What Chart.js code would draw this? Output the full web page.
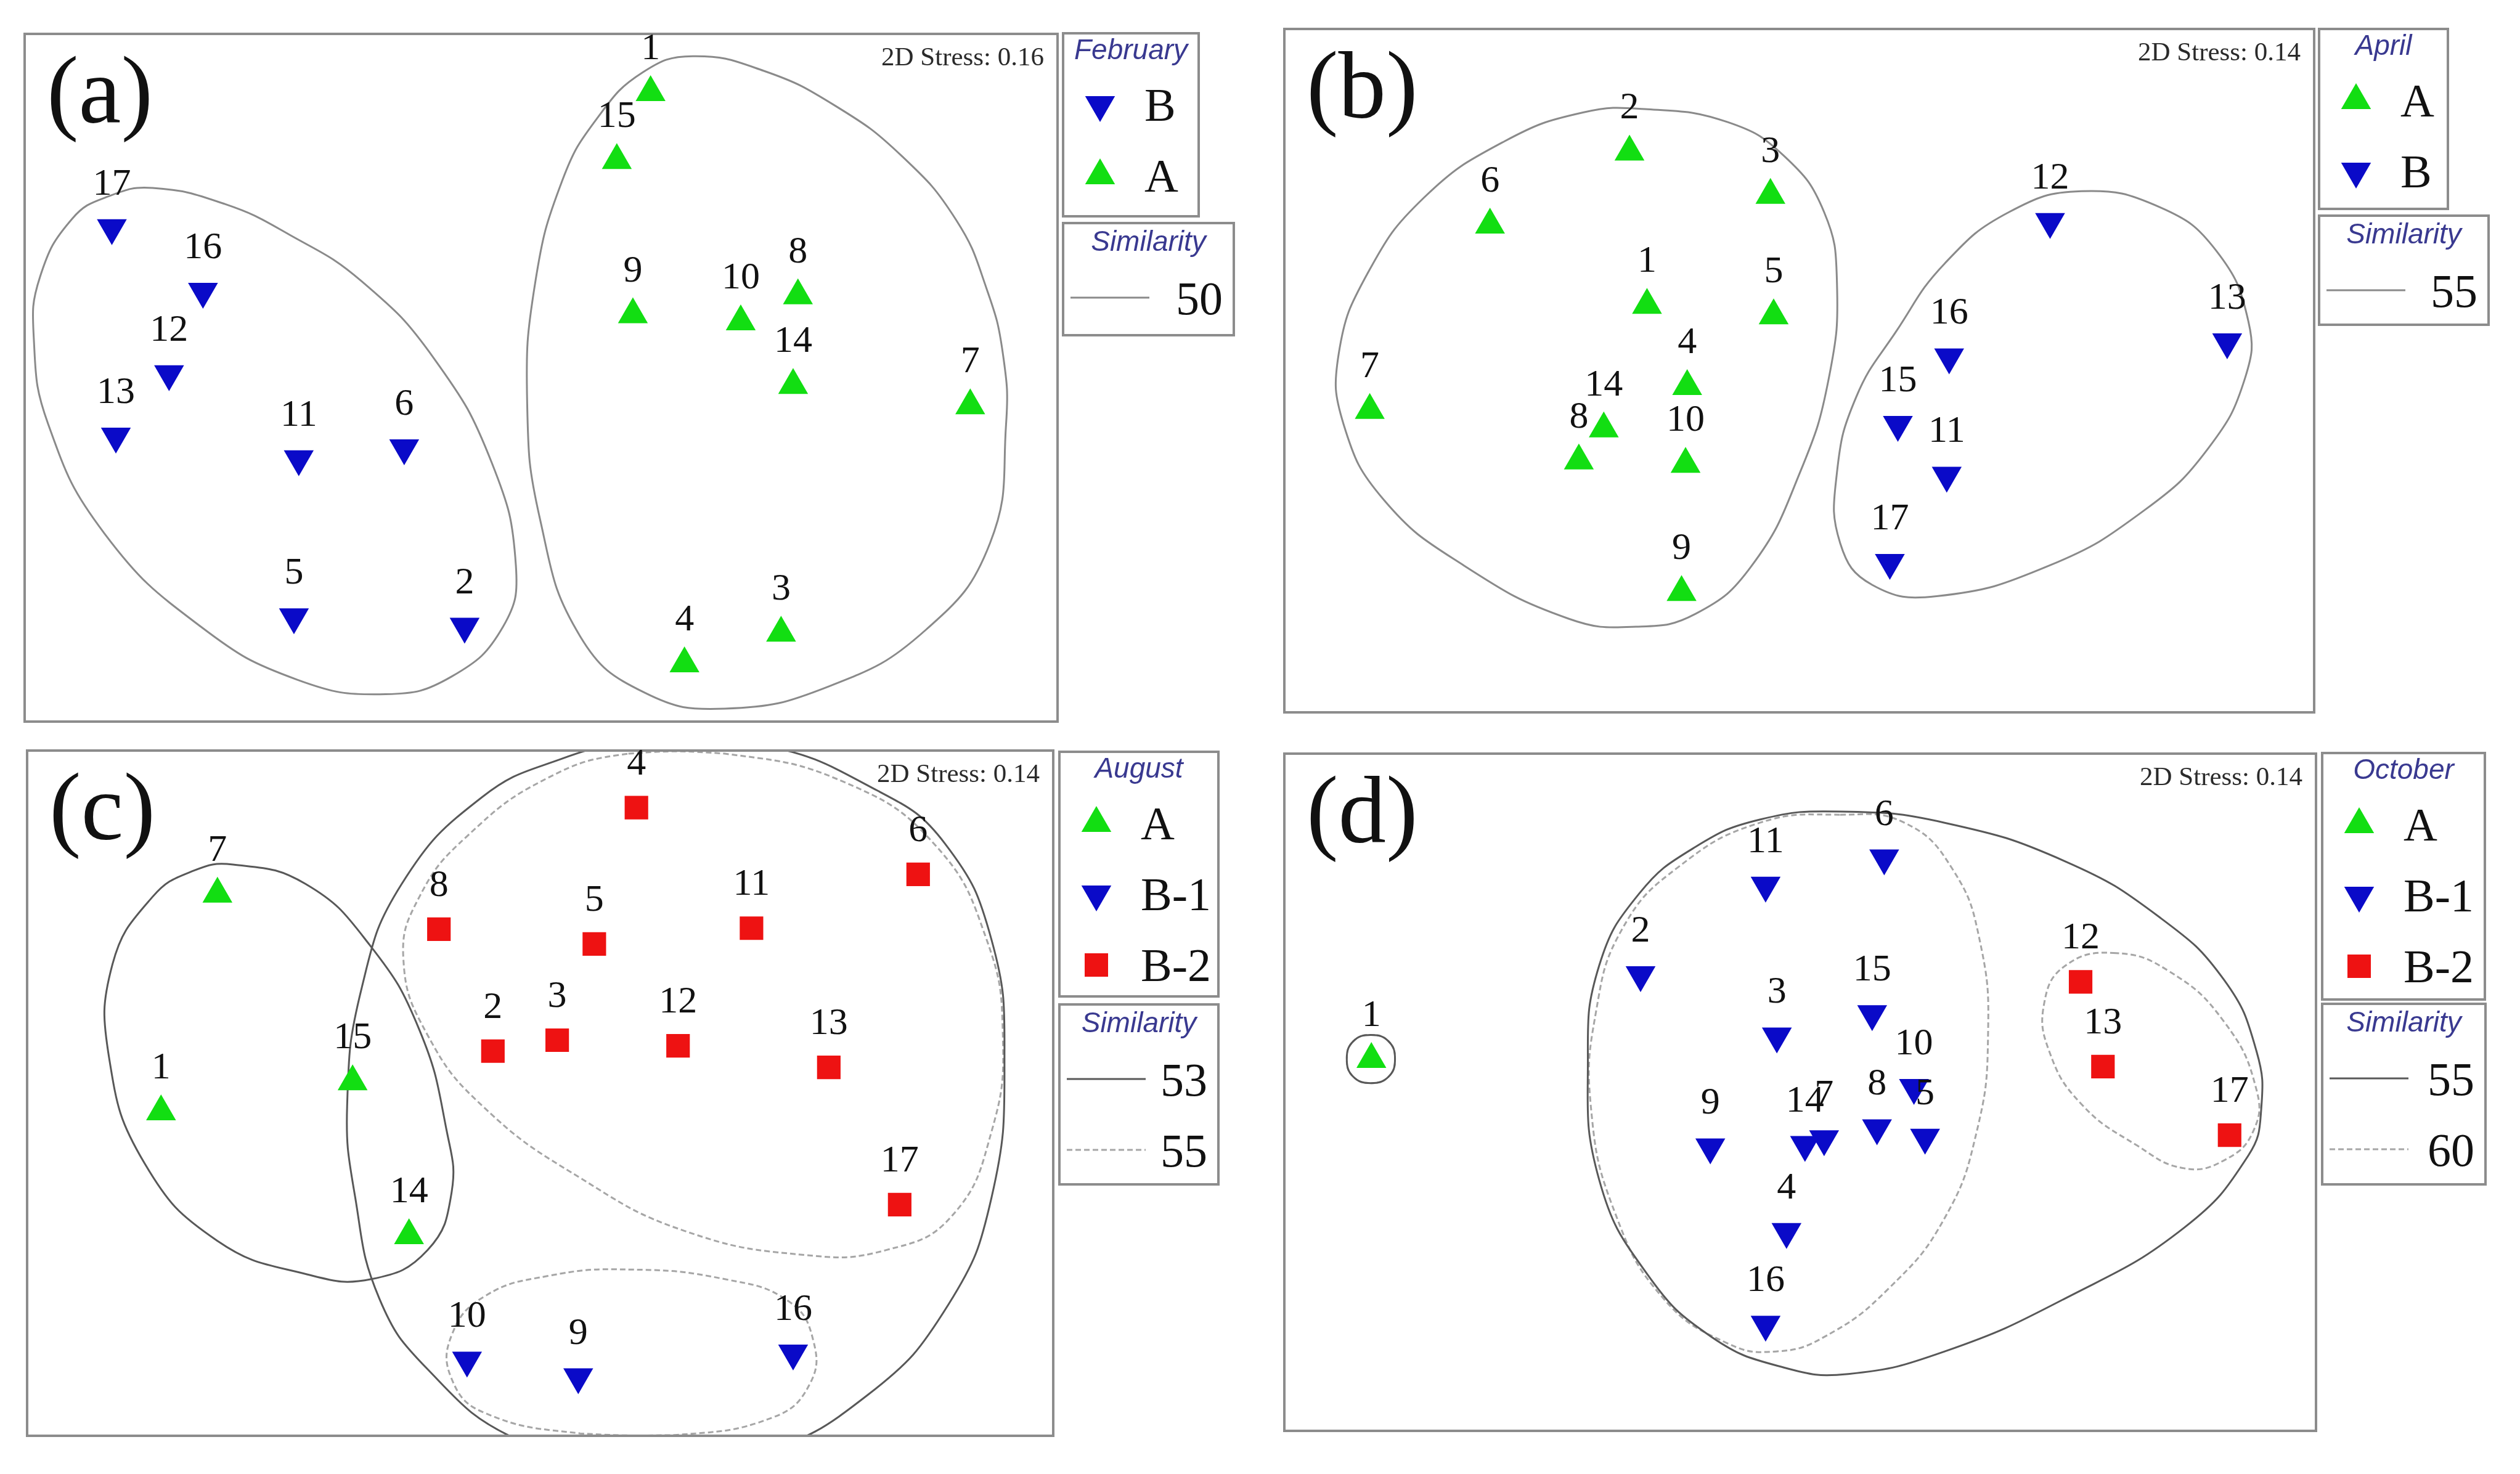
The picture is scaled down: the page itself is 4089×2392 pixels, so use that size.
<!DOCTYPE html>
<html>
<head>
<meta charset="utf-8">
<script src="https://cdn.jsdelivr.net/npm/chart.js@4.4.0/dist/chart.umd.min.js"></script>
<style>
  body { margin: 0; background: #fff; width: 4089px; height: 2392px; position: relative; overflow: hidden; }
  canvas { position: absolute; }
</style>
</head>
<body>
<canvas id="pa"></canvas>
<canvas id="pb"></canvas>
<canvas id="pc"></canvas>
<canvas id="pd"></canvas>
<script>
// values are read off the reference, in reference-image units (1568 px wide copy)
// [sample id, x, y]
var febA = [[1,404.8,57.5],[15,383.8,99.8],[9,393.8,195.8],[10,460.9,200.2],[8,496.5,184],[14,493.5,239.8],[7,603.7,252.4],[4,425.9,413],[3,486,393.9]];
var febB = [[17,69.6,141.8],[16,126.3,181.4],[12,105.2,232.7],[13,72.1,271.5],[11,185.9,285.6],[6,251.5,278.8],[5,182.9,383.9],[2,289.1,389.8]];
var febRingB = [[95,117],[140,127],[180,146],[225,175],[270,223],[306,288],[321,352],[313,390],[281,421],[240,432],[185,423],[125,390],[65,332],[30,264],[21,210],[25,172],[45,136],[68,122]];
var febRingA = [[431,35],[475,44],[520,66],[561,97],[595,137],[614,180],[624,220],[626,264],[616,338],[576,392],[516,427],[451,441],[401,431],[361,396],[336,323],[328,250],[333,176],[350,112],[372,73],[400,45]];

var aprA = [[2,1013.9,94.5],[6,927.1,140],[3,1101.6,121.5],[1,1024.8,189.9],[5,1103.6,196.4],[4,1049.8,240.4],[7,852.3,255.3],[14,997.9,266.8],[8,982.4,286.7],[10,1048.8,288.8],[9,1046.3,368.6]];
var aprB = [[12,1275.6,138],[13,1385.8,212.8],[16,1212.8,222.2],[15,1180.9,264.2],[11,1211.3,295.8],[17,1175.9,350.1]];
var aprRingA = [[1025,68],[1075,76],[1110,97],[1135,132],[1143,176],[1138,235],[1120,294],[1090,352],[1055,382],[1018,390],[976,385],[911,352],[861,311],[836,264],[833,220],[851,170],[886,123],[936,88],[985,70]];
var aprRingB = [[1295,119],[1344,129],[1379,156],[1399,200],[1397,235],[1374,279],[1335,317],[1275,352],[1205,371],[1165,364],[1145,338],[1143,294],[1155,247],[1180,206],[1210,164],[1250,132]];

var augA = [[7,135.3,556.3],[1,100.2,691.8],[15,219.4,673.1],[14,254.5,768.9]];
var augB1 = [[10,290.6,846.5],[9,359.8,856.9],[16,493.5,842.1]];
var augB2 = [[4,396,502.6],[6,571.3,544.1],[8,273.1,578.2],[5,369.8,587.4],[11,467.6,577.6],[2,306.7,654.1],[3,346.7,647.3],[12,421.9,650.8],[13,515.7,664.2],[17,559.8,749.6]];
var augRing53A = [[145,538],[190,550],[230,588],[261,641],[278,704],[281,742],[266,778],[231,796],[191,793],[135,772],[90,724],[68,659],[70,600],[95,558],[120,542]];
var augRing53B = [[391,463],[471,463],[546,492],[588,525],[617,585],[625,659],[617,745],[590,812],[540,868],[470,905],[390,912],[320,895],[266,852],[236,808],[221,745],[216,688],[225,615],[250,550],[300,496],[350,472]];
var augRing55B2 = [[391,469],[451,469],[526,487],[582,526],[614,585],[624,644],[617,704],[592,757],[551,778],[501,781],[426,766],[361,733],[301,689],[266,644],[251,597],[261,558],[291,520],[341,484]];
var augRing55B1 = [[391,790],[451,796],[491,810],[506,834],[504,861],[481,882],[420,893],[361,892],[301,879],[281,858],[281,831],[301,807],[341,794]];

var octA = [[1,853.3,659.2]];
var octB1 = [[6,1172.4,534],[11,1098.6,550.9],[2,1020.8,606.6],[15,1164.9,630.9],[3,1105.6,644.8],[10,1190.9,676.8],[5,1197.8,707.8],[8,1167.9,701.9],[7,1135,708.7],[14,1123.1,712.3],[9,1064.2,713.8],[4,1111.6,766.5],[16,1098.6,824.2]];
var octB2 = [[12,1294.6,611],[13,1308.5,663.7],[17,1387.3,706.4]];
var octRing55 = [[1145,505],[1210,512],[1285,536],[1344,571],[1384,610],[1404,654],[1407,690],[1399,719],[1359,764],[1285,808],[1210,841],[1150,855],[1110,851],[1065,832],[1025,793],[995,734],[988,660],[995,601],[1020,556],[1055,527],[1095,510]];
var octRing60B1 = [[1145,507],[1185,512],[1215,541],[1232,586],[1237,645],[1230,704],[1210,758],[1175,802],[1135,832],[1105,841],[1075,836],[1035,808],[1005,755],[990,690],[993,630],[1010,577],[1045,539],[1095,512]];
var octRing60B2 = [[1315,593],[1349,604],[1384,636],[1404,678],[1402,704],[1384,722],[1359,727],[1330,713],[1295,687],[1275,654],[1272,624],[1285,601]];
var octRing1 = [[853,644],[864,648],[868,659],[864,670],[853,674],[842,670],[838,659],[842,648]];

var K = 4089 / 1568;
var GREEN = '#12de12', BLUE = '#0a0ac8', RED = '#ee1212';
var DARK = '#585858', LIGHT = '#a6a6a6', MID = '#8a8a8a', FRAME = '#8c8c8c';
var TITLE = '#393990';

function markers(rows, color, style, rot) {
  return {
    type: 'scatter', isMarker: true,
    data: rows.map(function (r) { return { x: r[1], y: r[2], id: r[0] }; }),
    pointStyle: style, pointRotation: rot, pointRadius: style === 'rect' ? 27 : 28,
    pointBackgroundColor: color, pointBorderWidth: 0, showLine: false
  };
}

// closed contour: wrap the ends so the spline is smooth, hide the two extra segments
function ring(rows, color, dash) {
  var n = rows.length;
  var seq = [rows[n - 1]].concat(rows, [rows[0], rows[1]]).map(function (p) { return { x: p[0], y: p[1] }; });
  var last = seq.length - 1;
  return {
    type: 'line', data: seq, borderColor: color, borderWidth: 3, borderDash: dash || [],
    pointRadius: 0, tension: 0.45, fill: false,
    segment: {
      borderColor: function (c) { return (c.p0DataIndex === 0 || c.p1DataIndex === last) ? 'rgba(0,0,0,0)' : color; }
    }
  };
}

function symbol(ctx, style, rot, color, x, y) {
  ctx.fillStyle = color;
  ctx.beginPath();
  if (style === 'rect') {
    ctx.rect(x - 19, y - 19, 38, 38);
  } else {
    var r = 28, s = rot ? -1 : 1;
    ctx.moveTo(x, y - s * r);
    ctx.lineTo(x + r * 0.866, y + s * r / 2);
    ctx.lineTo(x - r * 0.866, y + s * r / 2);
    ctx.closePath();
  }
  ctx.fill();
}

var panels = [
  { id: 'pa', tag: '(a)', stress: '2D Stress: 0.16', box: [40, 55, 1716, 1171],
    key: { box: [1725, 54, 1945, 351], title: 'February', rows: [['B', BLUE, 'triangle', 180], ['A', GREEN, 'triangle', 0]] },
    sim: { box: [1725, 362, 2002, 544], rows: [['50', MID, []]] },
    datasets: [markers(febB, BLUE, 'triangle', 180), markers(febA, GREEN, 'triangle', 0), ring(febRingB, MID), ring(febRingA, MID)] },
  { id: 'pb', tag: '(b)', stress: '2D Stress: 0.14', box: [2084, 47, 3755, 1156],
    key: { box: [3763, 47, 3972, 339], title: 'April', rows: [['A', GREEN, 'triangle', 0], ['B', BLUE, 'triangle', 180]] },
    sim: { box: [3763, 350, 4038, 527], rows: [['55', MID, []]] },
    datasets: [markers(aprA, GREEN, 'triangle', 0), markers(aprB, BLUE, 'triangle', 180), ring(aprRingA, MID), ring(aprRingB, MID)] },
  { id: 'pc', tag: '(c)', stress: '2D Stress: 0.14', box: [44, 1218, 1709, 2330],
    key: { box: [1719, 1220, 1977, 1617], title: 'August', rows: [['A', GREEN, 'triangle', 0], ['B-1', BLUE, 'triangle', 180], ['B-2', RED, 'rect', 0]] },
    sim: { box: [1719, 1630, 1977, 1922], rows: [['53', DARK, []], ['55', LIGHT, [9, 5]]] },
    datasets: [markers(augA, GREEN, 'triangle', 0), markers(augB1, BLUE, 'triangle', 180), markers(augB2, RED, 'rect', 0),
      ring(augRing53A, DARK), ring(augRing53B, DARK), ring(augRing55B2, LIGHT, [9, 5]), ring(augRing55B1, LIGHT, [9, 5])] },
  { id: 'pd', tag: '(d)', stress: '2D Stress: 0.14', box: [2084, 1223, 3758, 2322],
    key: { box: [3768, 1222, 4032, 1622], title: 'October', rows: [['A', GREEN, 'triangle', 0], ['B-1', BLUE, 'triangle', 180], ['B-2', RED, 'rect', 0]] },
    sim: { box: [3768, 1629, 4033, 1922], rows: [['55', DARK, []], ['60', LIGHT, [9, 5]]] },
    datasets: [markers(octA, GREEN, 'triangle', 0), markers(octB1, BLUE, 'triangle', 180), markers(octB2, RED, 'rect', 0),
      ring(octRing1, DARK), ring(octRing1, LIGHT, [6, 4]), ring(octRing55, DARK), ring(octRing60B1, LIGHT, [9, 5]), ring(octRing60B2, LIGHT, [9, 5])] }
];

function decor(P, ox, oy) {
  return {
    id: 'decor',
    afterDraw: function (chart) {
      var ctx = chart.ctx, a = chart.chartArea;
      ctx.save();
      ctx.strokeStyle = FRAME; ctx.lineWidth = 4;
      ctx.strokeRect(a.left, a.top, a.right - a.left, a.bottom - a.top);

      // sample numbers above each symbol
      ctx.fillStyle = '#111'; ctx.textAlign = 'center'; ctx.textBaseline = 'alphabetic';
      ctx.font = '62px "Liberation Serif"';
      chart.data.datasets.forEach(function (ds, i) {
        if (!ds.isMarker) return;
        chart.getDatasetMeta(i).data.forEach(function (el, j) {
          ctx.fillText(String(ds.data[j].id), el.x, el.y - 54);
        });
      });

      ctx.textAlign = 'left';
      ctx.font = '155px "Liberation Serif"';
      ctx.fillText(P.tag, a.left + 36, a.top + 143);
      ctx.textAlign = 'right';
      ctx.font = '43px "Liberation Serif"'; ctx.fillStyle = '#2a2a2a';
      ctx.fillText(P.stress, a.right - 22, a.top + 51);

      // group key
      var k = P.key, kl = k.box[0] - ox, kt = k.box[1] - oy, kr = k.box[2] - ox, kb = k.box[3] - oy;
      ctx.strokeStyle = FRAME; ctx.lineWidth = 4;
      ctx.strokeRect(kl, kt, kr - kl, kb - kt);
      ctx.textAlign = 'center'; ctx.fillStyle = TITLE;
      ctx.font = 'italic 46px "Liberation Sans"';
      ctx.fillText(k.title, (kl + kr) / 2, kt + 42);
      k.rows.forEach(function (r, i) {
        var cy = kt + 116 + 115 * i;
        symbol(ctx, r[2], r[3], r[1], kl + 60, cy);
        ctx.fillStyle = '#111'; ctx.textAlign = 'left';
        ctx.font = '76px "Liberation Serif"';
        ctx.fillText(r[0], kl + 132, cy + 26);
      });

      // similarity key
      var s = P.sim, sl = s.box[0] - ox, st = s.box[1] - oy, sr = s.box[2] - ox, sb = s.box[3] - oy;
      ctx.strokeStyle = FRAME; ctx.lineWidth = 4; ctx.setLineDash([]);
      ctx.strokeRect(sl, st, sr - sl, sb - st);
      ctx.textAlign = 'center'; ctx.fillStyle = TITLE;
      ctx.font = 'italic 46px "Liberation Sans"';
      ctx.fillText('Similarity', (sl + sr) / 2, st + 45);
      s.rows.forEach(function (r, i) {
        var cy = st + 121 + 115 * i;
        ctx.strokeStyle = r[1]; ctx.lineWidth = 3; ctx.setLineDash(r[2]);
        ctx.beginPath(); ctx.moveTo(sl + 12, cy); ctx.lineTo(sl + 140, cy); ctx.stroke();
        ctx.setLineDash([]);
        ctx.fillStyle = '#111'; ctx.textAlign = 'right';
        ctx.font = '76px "Liberation Serif"';
        ctx.fillText(r[0], sr - 18, cy + 27);
      });
      ctx.restore();
    }
  };
}

panels.forEach(function (P) {
  var m = 14;
  var ox = P.box[0] - m, oy = Math.min(P.box[1], P.key.box[1]) - m;
  var right = Math.max(P.key.box[2], P.sim.box[2]) + m;
  var bottom = P.box[3] + m;
  var cv = document.getElementById(P.id);
  cv.width = right - ox; cv.height = bottom - oy;
  cv.style.left = ox + 'px'; cv.style.top = oy + 'px';
  new Chart(cv, {
    type: 'scatter',
    data: { datasets: P.datasets },
    options: {
      responsive: false, animation: false, events: [], devicePixelRatio: 1,
      layout: { autoPadding: false, padding: { left: m, top: P.box[1] - oy, right: right - P.box[2], bottom: m } },
      scales: {
        x: { type: 'linear', display: false, bounds: 'data', min: P.box[0] / K, max: P.box[2] / K },
        y: { type: 'linear', display: false, bounds: 'data', reverse: true, min: P.box[1] / K, max: P.box[3] / K }
      },
      plugins: { legend: { display: false }, tooltip: { enabled: false } }
    },
    plugins: [decor(P, ox, oy)]
  });
});
</script>
</body>
</html>
